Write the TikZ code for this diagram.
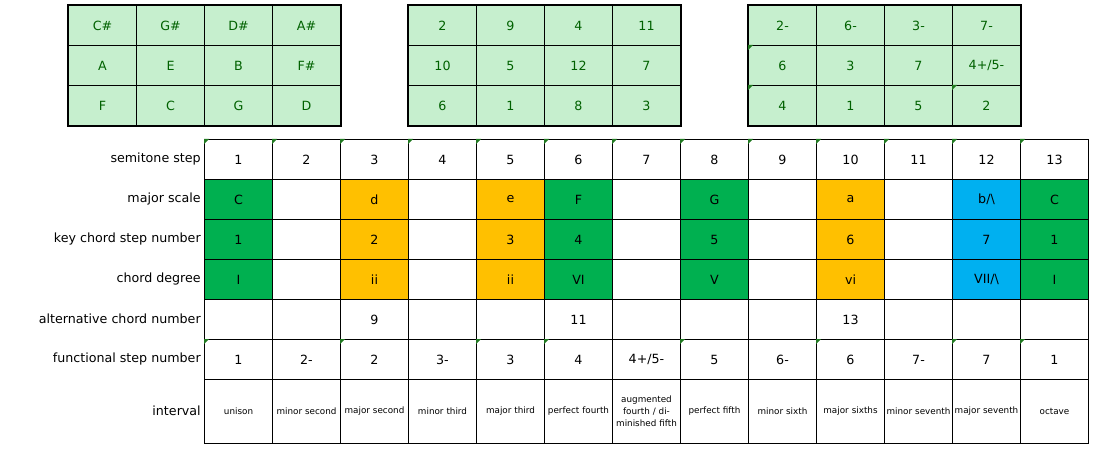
\documentclass[tikz,border=0pt]{standalone}
\usepackage{fontspec}
\setmainfont{DejaVu Sans}
\definecolor{lgreen}{HTML}{C6EFCE}
\definecolor{tgreen}{HTML}{006100}
\definecolor{dgreen}{HTML}{00B050}
\definecolor{dorange}{HTML}{FFC000}
\definecolor{dblue}{HTML}{00B0F0}
\definecolor{notegreen}{HTML}{217A21}
\tikzset{
  cell/.style={draw,line width=0.75pt,minimum width=51pt,minimum height=30pt,inner sep=0pt,anchor=north west,font=\fontsize{9.5}{11}\selectfont},
  keycell/.style={cell,fill=lgreen,text=tgreen},
  rowlabel/.style={anchor=east,inner sep=0pt,font=\fontsize{9.5}{11}\selectfont},
  ivcell/.style={cell,minimum height=48pt,text width=49pt,align=center,font=\fontsize{6.6}{9}\selectfont},
  note/.style={fill=notegreen}
}
\newcommand{\notemark}[1]{\fill[note] (#1.north west) -- ++(5,0) -- ++(-5,5) -- cycle;}
\begin{document}
\begin{tikzpicture}[x=0.75pt,y=-0.75pt]
\useasboundingbox (0,0) rectangle (1094,449);

% key grids
\foreach \r/\a/\b/\c/\d in {1/C\#/G\#/D\#/A\#,2/A/E/B/F\#,3/F/C/G/D}
  \foreach \i/\t in {1/\a,2/\b,3/\c,4/\d}
    \node[keycell] (n\r\i) at (68+68*\i-68,5+40*\r-40) {\t};
\foreach \r/\a/\b/\c/\d in {1/2/9/4/11,2/10/5/12/7,3/6/1/8/3}
  \foreach \i/\t in {1/\a,2/\b,3/\c,4/\d}
    \node[keycell] (s\r\i) at (408+68*\i-68,5+40*\r-40) {\t};
\foreach \r/\a/\b/\c/\d in {1/2-/6-/3-/7-,2/6/3/7/{4+/5-},3/4/1/5/2}
  \foreach \i/\t in {1/\a,2/\b,3/\c,4/\d}
    \node[keycell] (f\r\i) at (748+68*\i-68,5+40*\r-40) {\t};
\draw[line width=1.5pt] (n11.north west) rectangle (n34.south east);
\draw[line width=1.5pt] (s11.north west) rectangle (s34.south east);
\draw[line width=1.5pt] (f11.north west) rectangle (f34.south east);
\notemark{f21} \notemark{f31} \notemark{f34}

% row labels
\node[rowlabel] (L1) at (201,159) {semitone step};
\node[rowlabel] (L2) at (201,199) {major scale};
\node[rowlabel] (L3) at (201,239) {key chord step number};
\node[rowlabel] (L4) at (201,279) {chord degree};
\node[rowlabel] (L5) at (201,319) {alternative chord number};
\node[rowlabel] (L6) at (201,359) {functional step number};
\node[rowlabel] (L7) at (201,411) {interval};

% semitone step
\foreach \i in {1,...,13}{
  \node[cell] (t\i) at (204+68*\i-68,139) {\i};
  \notemark{t\i}
}
% empty cells of the middle rows
\foreach \i in {1,...,13}{
  \node[cell] (m\i) at (204+68*\i-68,179) {};
  \node[cell] (k\i) at (204+68*\i-68,219) {};
  \node[cell] (d\i) at (204+68*\i-68,259) {};
  \node[cell] (a\i) at (204+68*\i-68,299) {};
}
% coloured cells
\foreach \i/\m/\k/\g/\col in {1/C/1/I/dgreen,3/d/2/ii/dorange,5/e/3/ii/dorange,6/F/4/VI/dgreen,
    8/G/5/V/dgreen,10/a/6/vi/dorange,12/{b/\textbackslash}/7/{VII/\textbackslash}/dblue,13/C/1/I/dgreen}{
  \node[cell,fill=\col] (M\i) at (204+68*\i-68,179) {\m};
  \node[cell,fill=\col] (K\i) at (204+68*\i-68,219) {\k};
  \node[cell,fill=\col] (D\i) at (204+68*\i-68,259) {\g};
}
% alternative chord number
\foreach \i/\t in {3/9,6/11,10/13}
  \node[cell] (A\i) at (204+68*\i-68,299) {\t};

% functional step number
\foreach \i/\t in {1/1,2/2-,3/2,4/3-,5/3,6/4,7/{4+/5-},8/5,9/6-,10/6,11/7-,12/7,13/1}
  \node[cell] (u\i) at (204+68*\i-68,339) {\t};
\foreach \i in {1,3,5,6,8,10,12,13}
  {\notemark{u\i}}

% interval
\foreach \i/\t in {1/unison,2/minor second,3/major second,4/minor third,5/major third,
    6/perfect fourth,7/{augmented fourth / diminished fifth},8/perfect fifth,9/minor sixth,
    10/major sixths,11/minor seventh,12/major seventh,13/octave}
  \node[ivcell] (v\i) at (204+68*\i-68,379) {\t};
\end{tikzpicture}
\end{document}
